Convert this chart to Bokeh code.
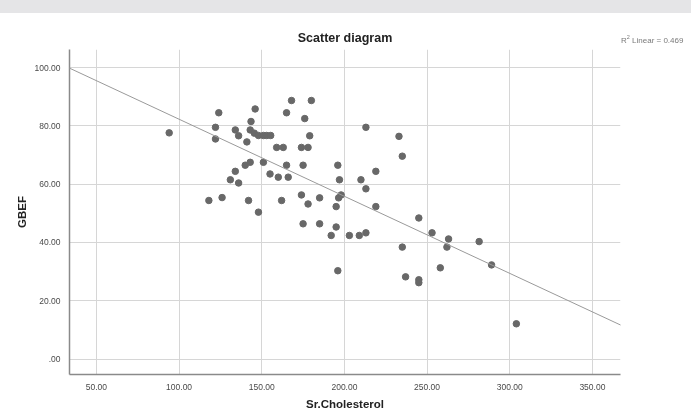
import numpy as np
from bokeh.plotting import figure
from bokeh.models import Range1d, FixedTicker, Div, Slope, ColumnDataSource, InlineStyleSheet
from bokeh.layouts import column
from bokeh.embed import file_html
from bokeh.resources import INLINE

# ---- data ----
chol = [94, 124, 122, 122, 134, 136, 141, 143.5, 146, 143, 145.5, 148, 151, 153, 155.4,
        168, 180, 165, 176, 179, 159, 163, 174, 178, 143, 140, 151, 165, 175,
        134, 131, 136, 155, 160, 166, 196, 197, 219, 213, 210, 213,
        118, 126, 142, 148, 162, 174, 178, 185, 196.5, 198, 195, 219,
        175, 185, 195, 192, 203, 209, 213, 196,
        245, 253, 263, 262, 281.5, 235, 289, 258, 237, 245, 245, 304, 233, 235]
gbef = [77.6, 84.5, 79.5, 75.5, 78.6, 76.6, 74.5, 81.5, 85.8, 78.6, 77.5, 76.7, 76.7, 76.7, 76.7,
        88.7, 88.7, 84.5, 82.5, 76.6, 72.6, 72.6, 72.6, 72.6, 67.5, 66.5, 67.5, 66.5, 66.5,
        64.4, 61.5, 60.4, 63.5, 62.4, 62.4, 66.5, 61.5, 64.4, 79.5, 61.5, 58.4,
        54.4, 55.4, 54.4, 50.4, 54.4, 56.3, 53.2, 55.3, 55.3, 56.3, 52.3, 52.3,
        46.4, 46.4, 45.3, 42.4, 42.4, 42.4, 43.3, 30.3,
        48.4, 43.3, 41.2, 38.4, 40.3, 38.4, 32.3, 31.3, 28.2, 27.2, 26.2, 12.1, 76.4, 69.6]

x_ticks = [50, 100, 150, 200, 250, 300, 350]
x_tick_labels = ["50.00", "100.00", "150.00", "200.00", "250.00", "300.00", "350.00"]
y_ticks = [0, 20, 40, 60, 80, 100]
y_tick_labels = [".00", "20.00", "40.00", "60.00", "80.00", "100.00"]

title_text = "Scatter diagram"
x_label = "Sr.Cholesterol"
y_label = "GBEF"
r2_html = "R<sup style='font-size:5.5px'>2</sup> Linear = 0.469"

# linear fit of the data
slope, intercept = np.polyfit(np.array(chol, float), np.array(gbef, float), 1)

FONT = "Liberation Sans"

p = figure(width=691, height=414, output_backend="svg", toolbar_location=None,
           x_range=Range1d(33.7, 367), y_range=Range1d(-5.3, 106.2),
           min_border_left=69, min_border_right=71, min_border_top=49, min_border_bottom=40,
           title=title_text, margin=0,
           stylesheets=[InlineStyleSheet(css=":host { position: fixed; top: 0; left: 0; }")])
p.title.align = "center"
p.title.text_font = FONT
p.title.text_font_size = "12.5px"
p.title.text_font_style = "bold"
p.title.text_color = "#222222"
p.outline_line_color = None
p.background_fill_color = "white"
p.border_fill_color = "white"

for ax, ticks, labels in ((p.xaxis[0], x_ticks, x_tick_labels), (p.yaxis[0], y_ticks, y_tick_labels)):
    ax.ticker = FixedTicker(ticks=ticks)
    ax.major_label_overrides = {t: l for t, l in zip(ticks, labels)}
    ax.major_label_text_font = FONT
    ax.major_label_text_font_size = "8.5px"
    ax.major_label_text_color = "#4a4a4a"
    ax.axis_line_color = "#8a8a8a"
    ax.axis_line_width = 1.5
    ax.major_tick_line_color = None
    ax.minor_tick_line_color = None
    ax.axis_label_text_font = FONT
    ax.axis_label_text_font_size = "11.5px"
    ax.axis_label_text_font_style = "bold"
    ax.axis_label_text_color = "#222222"

p.xaxis.axis_label = x_label
p.yaxis.axis_label = y_label
p.xaxis.major_label_standoff = 3
p.yaxis.major_label_standoff = 3
p.xaxis.axis_label_standoff = 5
p.yaxis.axis_label_standoff = 4

p.grid.grid_line_color = "#d6d6d6"
p.grid.grid_line_width = 1

src = ColumnDataSource(data=dict(x=chol, y=gbef))
p.scatter("x", "y", source=src, size=6.5, fill_color="#686868", line_color="#686868")

p.add_layout(Slope(gradient=slope, y_intercept=intercept, line_color="#9a9a9a", line_width=1))

band = Div(text="", margin=0, stylesheets=[InlineStyleSheet(css=":host { position: fixed; top: 0; left: 0; width: 691px; height: 13px; background-color: #e5e5e7; z-index: 10; }")])
r2 = Div(text=r2_html, margin=0, stylesheets=[InlineStyleSheet(css=":host { position: fixed; top: 32px; left: 621px; z-index: 11; font-family: 'Liberation Sans'; font-size: 8px; color: #7a7a7a; white-space: nowrap; line-height: 10px; }")])

layout = column(band, r2, p, spacing=0)
open("out.html", "w").write(file_html(layout, INLINE))
